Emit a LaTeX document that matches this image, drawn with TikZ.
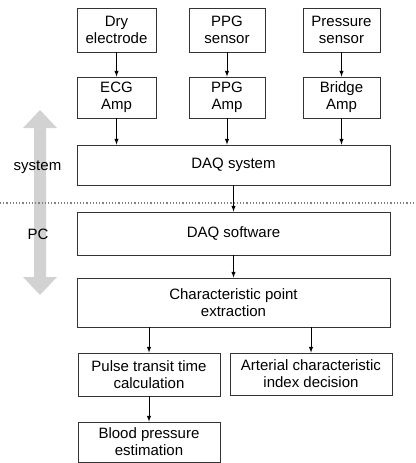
\documentclass[tikz,border=0pt]{standalone}
\usepackage{fontspec}
\setmainfont{Liberation Sans}
\usetikzlibrary{arrows}

\tikzset{
  blk/.style={draw=black!80,line width=0.8pt,align=center,inner sep=0pt,
    font=\fontsize{15}{17}\selectfont},
  lbl/.style={font=\fontsize{15}{17}\selectfont,inner sep=1pt}
}
\def\pfeil#1#2{\draw[->,line width=1pt] #1 -- #2;}

\begin{document}
\begin{tikzpicture}[>=latex,x=1pt,y=-1pt]
\useasboundingbox (0,0) rectangle (415,463);
% side arrow system / PC
\fill[gray!35] (34,128) -- (23,128) -- (40,110) -- (57,128) -- (46,128)
  -- (46,277) -- (57,277) -- (40,295) -- (23,277) -- (34,277) -- cycle;
\node[lbl] (sys) at (37.5,167) {system};
\node[lbl] (pc) at (38,234) {PC};
% border between system and PC
\draw[gray,dotted,line width=1.2pt] (0,203) -- (415,203);
% boxes
\node[blk,minimum width=79pt,minimum height=44pt] (dry) at (116.5,30) {Dry\\electrode};
\node[blk,minimum width=76pt,minimum height=44pt] (ppg) at (227,30) {PPG\\sensor};
\node[blk,minimum width=77pt,minimum height=44pt] (pres) at (341.5,30) {Pressure\\sensor};
\node[blk,minimum width=79pt,minimum height=41pt] (ecg) at (116.5,97.5) {ECG\\Amp};
\node[blk,minimum width=76pt,minimum height=41pt] (ppgamp) at (227,97.5) {PPG\\Amp};
\node[blk,minimum width=77pt,minimum height=41pt] (bridge) at (341.5,97.5) {Bridge\\Amp};
\node[blk,minimum width=313pt,minimum height=40pt] (daqsys) at (233.5,165) {DAQ system};
\node[blk,minimum width=313pt,minimum height=43pt] (daqsw) at (233.5,233.5) {DAQ software};
\node[blk,minimum width=313pt,minimum height=49pt] (char) at (233.5,302.5) {Characteristic point\\extraction};
\node[blk,minimum width=142pt,minimum height=43pt] (ptt) at (149,374.5) {Pulse transit time\\calculation};
\node[blk,minimum width=162pt,minimum height=42pt] (art) at (311,374) {Arterial characteristic\\index decision};
\node[blk,minimum width=142pt,minimum height=40pt] (bp) at (149,442) {Blood pressure\\estimation};
% connectors
\pfeil{(dry)}{(ecg)}
\pfeil{(ppg)}{(ppgamp)}
\pfeil{(pres)}{(bridge)}
\pfeil{(ecg.south)}{(ecg.south |- daqsys.north)}
\pfeil{(ppgamp.south)}{(ppgamp.south |- daqsys.north)}
\pfeil{(bridge.south)}{(bridge.south |- daqsys.north)}
\pfeil{(daqsys)}{(daqsw)}
\pfeil{(daqsw)}{(char)}
\pfeil{(ptt.north |- char.south)}{(ptt.north)}
\pfeil{(art.north |- char.south)}{(art.north)}
\pfeil{(ptt)}{(bp)}
\end{tikzpicture}
\end{document}
